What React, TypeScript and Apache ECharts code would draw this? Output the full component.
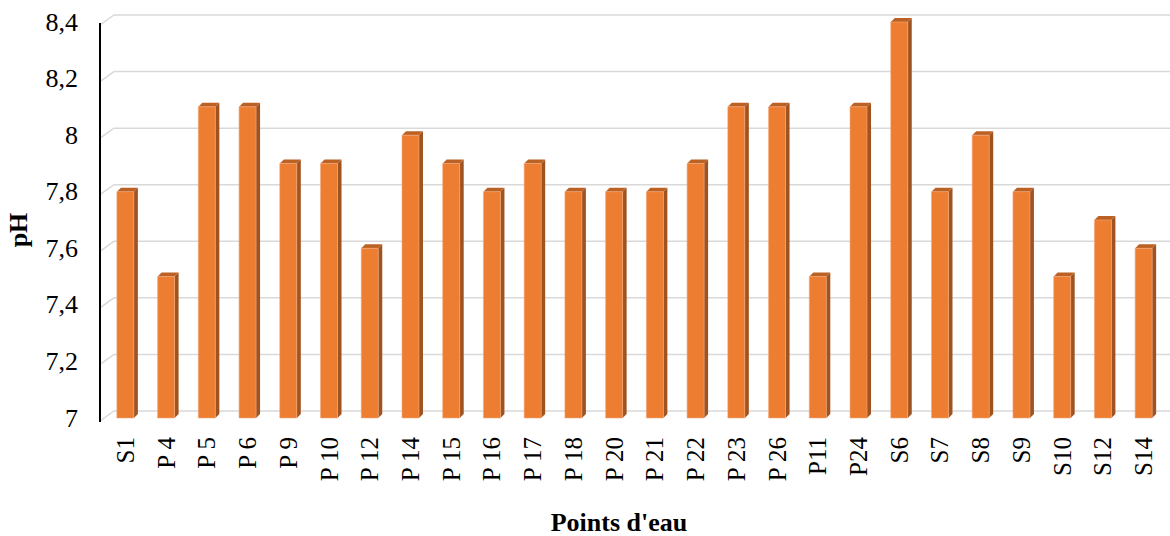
import React, { useEffect, useRef } from "react";
import * as echarts from "echarts";

const categories = ["S1", "P 4", "P 5", "P 6", "P 9", "P 10", "P 12", "P 14", "P 15", "P 16", "P 17", "P 18", "P 20", "P 21", "P 22", "P 23", "P 26", "P11", "P24", "S6", "S7", "S8", "S9", "S10", "S12", "S14"];
const phValues = [7.8, 7.5, 8.1, 8.1, 7.9, 7.9, 7.6, 8.0, 7.9, 7.8, 7.9, 7.8, 7.8, 7.8, 7.9, 8.1, 8.1, 7.5, 8.1, 8.4, 7.8, 8.0, 7.8, 7.5, 7.7, 7.6];
const yTicks = [7, 7.2, 7.4, 7.6, 7.8, 8, 8.2, 8.4];
const yMin = 7;
const yMax = 8.4;
const xTitle = "Points d'eau";
const yTitle = "pH";

const FONT = "Liberation Serif";

export default function App() {
  const ref = useRef<HTMLDivElement>(null);
  useEffect(() => {
    document.body.style.margin = "0";
    const chart = echarts.init(ref.current!, null, { renderer: "svg" });
    const option: any = {
      animation: false,
      grid: { left: 105, right: 6, top: 22, bottom: 118 },
      xAxis: {
        type: "category",
        data: categories,
        axisLine: { show: false },
        axisTick: { show: false },
        axisLabel: {
          rotate: 90,
          margin: 19,
          fontSize: 25,
          fontFamily: FONT,
          color: "#000",
          interval: 0,
        },
      },
      yAxis: {
        type: "value",
        min: yMin,
        max: yMax,
        interval: 0.2,
        offset: 5,
        axisLine: { show: false },
        axisTick: { show: false },
        splitLine: { show: false },
        axisLabel: {
          margin: 22,
          fontSize: 26,
          fontFamily: FONT,
          color: "#000",
          padding: [5, 0, 0, 0],
          formatter: (v: number) => String(Math.round(v * 10) / 10).replace(".", ","),
        },
      },
      series: [
        {
          type: "custom",
          z: 1,
          silent: true,
          data: yTicks.map((v) => [0, v]),
          renderItem: (params: any, api: any) => {
            const v = api.value(1);
            const y = api.coord([0, v])[1];
            const right = api.getWidth();
            const children: any[] = [
              {
                type: "polyline",
                shape: {
                  points: [
                    [100, y + 3],
                    [114, y - 7],
                    [right, y - 7],
                  ],
                },
                style: { stroke: "#D9D9D9", lineWidth: 1.5, fill: "none" },
              },
            ];
            if (params.dataIndex === 0) {
              const yTop = api.coord([0, yMax])[1];
              children.push({
                type: "line",
                z2: 10,
                shape: { x1: 100, y1: y + 4, x2: 100, y2: yTop + 1 },
                style: { stroke: "#000", lineWidth: 2 },
              });
            }
            return { type: "group", children };
          },
        },
        {
          type: "custom",
          z: 2,
          data: phValues.map((v, i) => [i, v]),
          renderItem: (params: any, api: any) => {
            const idx = api.value(0);
            const v = api.value(1);
            const top = api.coord([idx, v]);
            const bot = api.coord([idx, yMin]);
            const w = 17;
            const dx = 4;
            const dy = 4;
            const x = top[0] - w / 2;
            const yt = top[1];
            const yb = bot[1];
            return {
              type: "group",
              children: [
                {
                  type: "polygon",
                  shape: { points: [[x + w, yt], [x + w + dx, yt - dy], [x + w + dx, yb - dy], [x + w, yb]] },
                  style: { fill: "#9E5321" },
                },
                {
                  type: "polygon",
                  shape: { points: [[x, yt], [x + dx, yt - dy], [x + w + dx, yt - dy], [x + w, yt]] },
                  style: { fill: "#BC6124" },
                },
                {
                  type: "rect",
                  shape: { x: x, y: yt, width: w, height: yb - yt },
                  style: { fill: "#ED7D31", stroke: "#F4A878", lineWidth: 0.6 },
                },
              ],
            };
          },
        },
      ],
      graphic: [
        {
          type: "text",
          x: 18,
          y: 230,
          rotation: Math.PI / 2,
          style: {
            text: yTitle,
            fontFamily: FONT,
            fontWeight: "bold",
            fontSize: 26,
            fill: "#000",
            align: "center",
            verticalAlign: "middle",
          },
        },
        {
          type: "text",
          x: 619,
          y: 522,
          style: {
            text: xTitle,
            fontFamily: FONT,
            fontWeight: "bold",
            fontSize: 26,
            fill: "#000",
            align: "center",
            verticalAlign: "middle",
          },
        },
      ],
    };
    chart.setOption(option);
    return () => chart.dispose();
  }, []);
  return <div ref={ref} style={{ width: 1170, height: 536 }} />;
}
